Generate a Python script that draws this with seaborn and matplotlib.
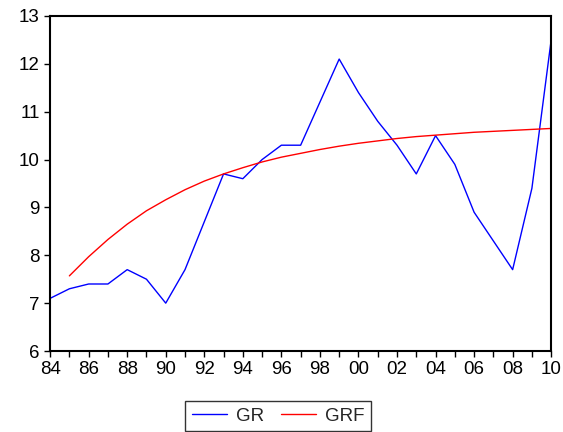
import pandas as pd
import numpy as np
import matplotlib.pyplot as plt
import seaborn as sns

years = list(range(1984, 2011))
gr = [7.1, 7.3, 7.4, 7.4, 7.7, 7.5, 7.0, 7.7, 8.7, 9.7, 9.6, 10.0, 10.3, 10.3,
      11.2, 12.1, 11.4, 10.8, 10.3, 9.7, 10.5, 9.9, 8.9, 8.3, 7.7, 9.4, 12.5]
grf = [np.nan, 7.57, 7.97, 8.33, 8.65, 8.93, 9.16, 9.37, 9.55, 9.70, 9.83, 9.95,
       10.05, 10.13, 10.21, 10.28, 10.34, 10.39, 10.44, 10.48, 10.51, 10.54,
       10.57, 10.59, 10.61, 10.63, 10.65]

df = pd.DataFrame({"year": years, "GR": gr, "GRF": grf})
long = df.melt(id_vars="year", var_name="series", value_name="value").dropna()

sns.set_style("ticks")
plt.rcParams["font.family"] = ["Liberation Sans", "DejaVu Sans"]

fig = plt.figure(figsize=(5.63, 4.32), dpi=100)
ax = fig.add_axes([0.089, 0.1875, 0.89, 0.7755])

sns.lineplot(data=long, x="year", y="value", hue="series",
             palette={"GR": "#0000ff", "GRF": "#ff0000"}, linewidth=1.0,
             ax=ax, legend=False)

ax.set_xlim(1984, 2010)
ax.set_ylim(6, 13)
ax.set_xticks(range(1984, 2011, 2))
ax.set_xticklabels([f"{y % 100:02d}" for y in range(1984, 2011, 2)])
ax.set_xticks(range(1984, 2011), minor=True)
ax.set_yticks(range(6, 14))
ax.tick_params(axis="both", which="both", direction="out", length=4,
               width=1, color="black", labelsize=13.5, labelcolor="black")
ax.tick_params(axis="x", pad=3)
ax.set_xlabel("")
ax.set_ylabel("")
for s in ax.spines.values():
    s.set_visible(True)
    s.set_color("black")
    s.set_linewidth(1.5)

handles = [plt.Line2D([], [], color="#0000ff", lw=1.0),
           plt.Line2D([], [], color="#ff0000", lw=1.0)]
leg = fig.legend(handles, ["GR", "GRF"], loc="lower center",
                 bbox_to_anchor=(0.494, 0.002), ncol=2, fontsize=13.5,
                 frameon=True, fancybox=False, edgecolor="black",
                 handlelength=1.9, handletextpad=0.45, columnspacing=0.9,
                 borderpad=0.35, borderaxespad=0.0)
leg.get_frame().set_linewidth(1.0)

fig.savefig("out.png", dpi=100)
